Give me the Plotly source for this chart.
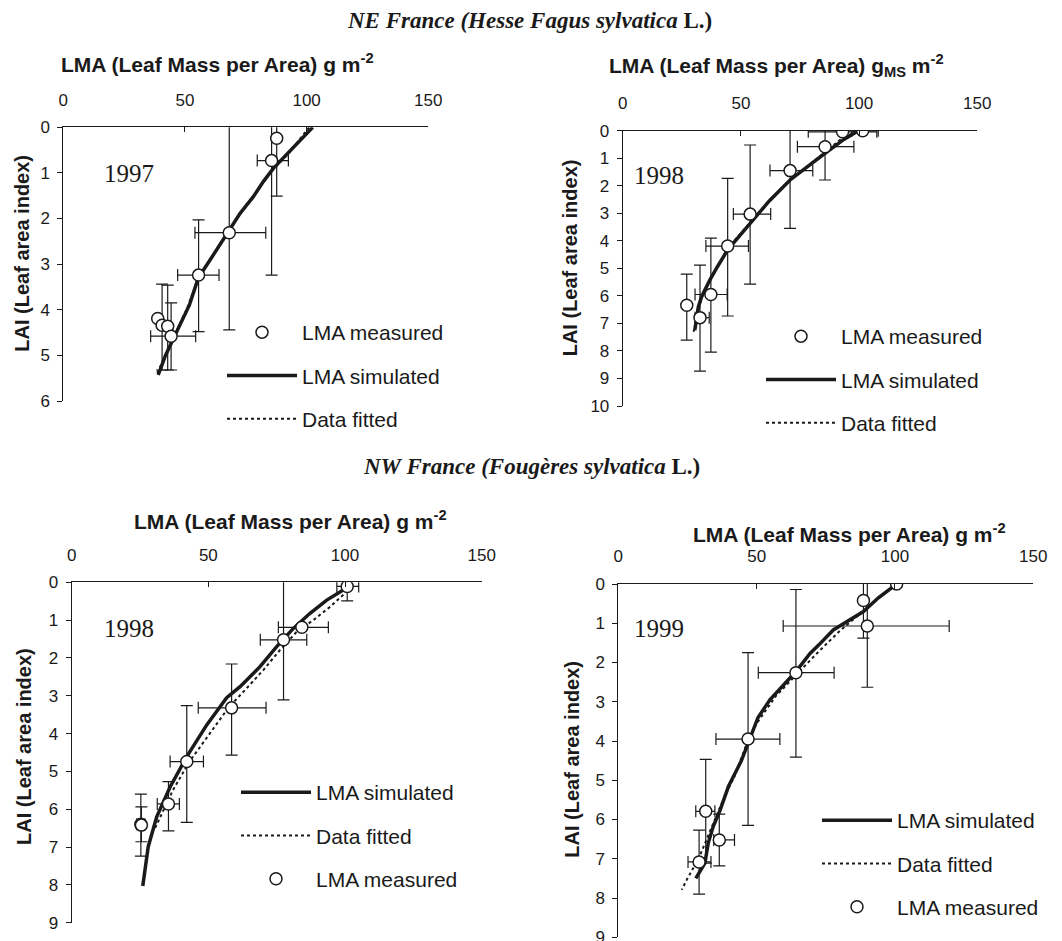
import plotly.graph_objects as go

# ---------------- Panel 1 : NE France, 1997 ----------------
p1_lma = [87.7, 85.6, 68.2, 55.6, 38.8, 40.6, 42.9, 44.3]
p1_lai = [0.24, 0.73, 2.31, 3.24, 4.19, 4.34, 4.36, 4.58]
p1_lma_lo = [None, 79.7, 54.1, 47.0, None, None, None, 35.9]
p1_lma_hi = [None, 92.5, 83.2, 64.0, None, None, None, 54.4]
p1_lai_lo = [-1.03, -1.78, -0.54, 2.03, None, 3.44, 3.46, 3.85]
p1_lai_hi = [1.51, 3.24, 4.44, 4.48, None, 5.32, 5.32, 5.32]
p1_sim_lma = [102.5, 93.2, 86.3, 82.2, 78.1, 72.6, 67.5, 60.3, 55.5, 51.8, 46.0, 42.0, 39.0]
p1_sim_lai = [0.0, 0.53, 0.90, 1.19, 1.52, 1.89, 2.30, 2.91, 3.30, 3.90, 4.55, 5.00, 5.43]
p1_fit_lma = [101.0, 92.5, 85.5, 81.5, 77.5, 72.0, 66.8, 60.0, 55.0, 51.0, 45.5, 41.5, 38.5]
p1_fit_lai = [0.0, 0.58, 0.96, 1.25, 1.58, 1.95, 2.36, 2.95, 3.36, 3.95, 4.60, 5.05, 5.40]

# ---------------- Panel 2 : NE France, 1998 ----------------
p2_lma = [101.5, 93.0, 85.6, 70.8, 53.9, 44.4, 37.3, 32.7, 27.1]
p2_lai = [0.0, 0.04, 0.58, 1.45, 3.03, 4.19, 5.95, 6.79, 6.34]
p2_lma_lo = [96.9, 78.5, 73.9, 62.3, 46.8, 35.2, 30.6, 30.6, None]
p2_lma_hi = [108.1, 107.5, 97.8, 80.4, 62.6, 53.2, 44.2, 36.6, None]
p2_lai_lo = [None, None, -0.63, -0.65, 0.52, 1.73, 3.90, 4.88, 5.21]
p2_lai_hi = [None, None, 1.79, 3.55, 5.57, 6.73, 8.04, 8.73, 7.61]
p2_sim_lma = [99.7, 93.0, 85.6, 78.0, 70.8, 62.0, 53.9, 48.0, 44.4, 40.0, 36.9, 33.5, 32.0, 30.5]
p2_sim_lai = [0.0, 0.35, 0.82, 1.30, 1.79, 2.55, 3.37, 3.95, 4.33, 4.95, 5.42, 6.00, 6.39, 7.25]
p2_fit_lma = [99.0, 92.0, 84.5, 77.0, 69.5, 61.0, 53.0, 47.0, 43.5, 39.5, 36.5, 33.5, 31.5, 30.0]
p2_fit_lai = [0.02, 0.33, 0.85, 1.36, 1.90, 2.62, 3.42, 4.02, 4.42, 5.00, 5.48, 6.05, 6.70, 7.30]

# ---------------- Panel 3 : NW France, 1998 ----------------
p3_lma = [100.8, 84.2, 77.5, 58.5, 42.1, 35.4, 25.3, 25.5]
p3_lai = [0.11, 1.19, 1.52, 3.32, 4.74, 5.86, 6.40, 6.42]
p3_lma_lo = [97.0, 75.6, 69.0, 46.3, 36.0, 31.3, 23.8, None]
p3_lma_hi = [105.0, 93.9, 86.0, 71.1, 48.2, 39.4, 26.8, None]
p3_lai_lo = [-0.17, None, -0.08, 2.16, 3.26, 5.27, 5.60, 5.94]
p3_lai_hi = [0.49, None, 3.11, 4.57, 6.35, 6.57, 7.24, 6.86]
p3_sim_lma = [99.5, 93.3, 87.2, 81.1, 75.0, 68.9, 61.6, 56.7, 49.4, 42.1, 36.0, 31.1, 28.0, 26.0]
p3_sim_lai = [0.20, 0.47, 0.82, 1.22, 1.70, 2.23, 2.76, 3.05, 3.77, 4.61, 5.41, 6.20, 6.99, 8.03]
p3_fit_lma = [99.4, 94.5, 88.4, 82.3, 76.2, 70.1, 63.4, 57.5, 50.5, 43.0, 37.0, 32.5, 30.5]
p3_fit_lai = [0.33, 0.65, 1.00, 1.31, 1.79, 2.32, 2.85, 3.30, 4.00, 4.75, 5.50, 6.20, 6.50]

# ---------------- Panel 4 : NW France, 1999 ----------------
p4_lma = [100.6, 88.6, 90.0, 64.2, 46.9, 31.6, 36.5, 29.2]
p4_lai = [0.0, 0.42, 1.07, 2.26, 3.95, 5.79, 6.52, 7.08]
p4_lma_lo = [None, None, 59.6, 50.6, 35.3, 28.0, 34.5, 25.2]
p4_lma_hi = [None, None, 119.6, 78.0, 58.4, 34.9, 42.0, 33.5]
p4_lai_lo = [None, -0.54, -0.49, 0.14, 1.75, 4.47, 5.86, 6.27]
p4_lai_hi = [None, 1.38, 2.63, 4.41, 6.15, 7.11, 7.18, 7.90]
p4_sim_lma = [100.6, 94.0, 88.6, 82.5, 77.7, 72.5, 69.3, 64.2, 59.0, 54.8, 50.5, 47.2, 44.5,
              42.8, 39.8, 36.8, 34.3, 32.5, 31.3, 28.0]
p4_sim_lai = [0.0, 0.35, 0.70, 0.95, 1.17, 1.55, 1.77, 2.23, 2.62, 2.95, 3.40, 4.00, 4.50,
              4.74, 5.16, 5.76, 6.18, 6.60, 7.11, 7.50]
p4_fit_lma = [100.0, 93.0, 87.0, 80.0, 72.0, 64.5, 57.0, 50.0, 46.0, 42.0, 38.5, 35.5, 32.0,
              29.0, 25.0, 22.9]
p4_fit_lai = [0.02, 0.42, 0.78, 1.20, 1.75, 2.30, 2.85, 3.55, 4.15, 4.90, 5.40, 5.90, 6.50,
              7.00, 7.50, 7.79]

x_ticks = [0, 50, 100, 150]
year_labels = ["1997", "1998", "1998", "1999"]
y_max = [6, 10, 9, 9]

panels = [
    (p1_lma, p1_lai, p1_lma_lo, p1_lma_hi, p1_lai_lo, p1_lai_hi, p1_sim_lma, p1_sim_lai, p1_fit_lma, p1_fit_lai),
    (p2_lma, p2_lai, p2_lma_lo, p2_lma_hi, p2_lai_lo, p2_lai_hi, p2_sim_lma, p2_sim_lai, p2_fit_lma, p2_fit_lai),
    (p3_lma, p3_lai, p3_lma_lo, p3_lma_hi, p3_lai_lo, p3_lai_hi, p3_sim_lma, p3_sim_lai, p3_fit_lma, p3_fit_lai),
    (p4_lma, p4_lai, p4_lma_lo, p4_lma_hi, p4_lai_lo, p4_lai_hi, p4_sim_lma, p4_sim_lai, p4_fit_lma, p4_fit_lai),
]

W, H = 1062, 941
OFF = 8  # page body margin of the HTML page


def px(xp):
    return (xp - OFF) / W


def py(yp):
    return 1 - (yp - OFF) / H


# plot areas in page pixels (left, right, top, bottom)
boxes = [(63.3, 428.3, 127.3, 401.0), (622.7, 977.3, 130.7, 406.0),
         (71.7, 481.7, 582.3, 922.7), (618.3, 1033.3, 584.0, 937.3)]
# legend order per panel: measured, simulated, fitted ranks
legend_ranks = [(1, 2, 3), (1, 2, 3), (3, 1, 2), (3, 1, 2)]
legend_pos = [(222, 312), (761, 316), (236, 772), (817, 800)]

AX = "Liberation Sans, Arial, sans-serif"
SERIF = "Liberation Serif, Times New Roman, serif"
INK = "#1a1a1a"


def minus(vals, lo):
    return [None if l is None else v - l for v, l in zip(vals, lo)]


def plus(vals, hi):
    return [None if h is None else h - v for v, h in zip(vals, hi)]


fig = go.Figure()
layout_axes = {}
for i, (lma, lai, xlo, xhi, ylo, yhi, slma, slai, flma, flai) in enumerate(panels):
    n = i + 1
    xa = "x" if n == 1 else f"x{n}"
    ya = "y" if n == 1 else f"y{n}"
    lg = "legend" if n == 1 else f"legend{n}"
    rm, rs, rf = legend_ranks[i]
    fig.add_trace(go.Scatter(x=flma, y=flai, mode="lines", name="Data fitted",
                             line=dict(color=INK, width=2, dash="dot"),
                             xaxis=xa, yaxis=ya, legend=lg, legendgroup=f"f{n}",
                             legendrank=rf))
    fig.add_trace(go.Scatter(x=slma, y=slai, mode="lines", name="LMA simulated",
                             line=dict(color=INK, width=3.5),
                             xaxis=xa, yaxis=ya, legend=lg, legendgroup=f"s{n}",
                             legendrank=rs))
    fig.add_trace(go.Scatter(x=lma, y=lai, mode="markers", name="LMA measured",
                             marker=dict(symbol="circle", size=12, color="white",
                                         line=dict(color=INK, width=1.5)),
                             error_x=dict(type="data", symmetric=False,
                                          array=plus(lma, xhi), arrayminus=minus(lma, xlo),
                                          color=INK, thickness=1.2, width=6),
                             error_y=dict(type="data", symmetric=False,
                                          array=plus(lai, yhi), arrayminus=minus(lai, ylo),
                                          color=INK, thickness=1.2, width=6),
                             xaxis=xa, yaxis=ya, legend=lg, legendgroup=f"m{n}",
                             legendrank=rm))
    l, r, t, b = boxes[i]
    xkey = "xaxis" if n == 1 else f"xaxis{n}"
    ykey = "yaxis" if n == 1 else f"yaxis{n}"
    layout_axes[xkey] = dict(domain=[px(l), px(r)], range=[0, 150], side="top",
                             anchor=ya, tickvals=x_ticks, ticks="inside", ticklen=5,
                             tickcolor=INK, showline=True, linecolor=INK, linewidth=1,
                             showgrid=False, zeroline=False, ticklabelstandoff=14,
                             automargin=False,
                             tickfont=dict(family=AX, size=17, color=INK))
    layout_axes[ykey] = dict(domain=[py(b), py(t)], range=[y_max[i], 0],
                             anchor=xa, dtick=1, ticks="outside", ticklen=5,
                             tickcolor=INK, showline=True, linecolor=INK, linewidth=1,
                             showgrid=False, zeroline=False, ticklabelstandoff=4,
                             automargin=False,
                             tickfont=dict(family=AX, size=17, color=INK))
    lx, ly = legend_pos[i]
    layout_axes[lg] = dict(x=px(lx), y=py(ly), xanchor="left", yanchor="top",
                           bgcolor="rgba(0,0,0,0)", itemwidth=70, tracegroupgap=13,
                           traceorder="grouped",
                           font=dict(family=AX, size=21, color=INK))

annotations = []
annotations.append(dict(text="<b><i>NE France (Hesse Fagus sylvatica</i> L.)</b>",
                        x=px(529), y=py(21), xref="paper", yref="paper",
                        xanchor="center", yanchor="middle",
                        showarrow=False, font=dict(family=SERIF, size=23, color=INK)))
annotations.append(dict(text="<b><i>NW France (Fougères sylvatica</i> L.)</b>",
                        x=px(531), y=py(467), xref="paper", yref="paper",
                        xanchor="center", yanchor="middle",
                        showarrow=False, font=dict(family=SERIF, size=23, color=INK)))

x_titles = ["LMA (Leaf Mass per Area) g m<sup>-2</sup>",
            "LMA (Leaf Mass per Area) g<sub>MS</sub> m<sup>-2</sup>",
            "LMA (Leaf Mass per Area) g m<sup>-2</sup>",
            "LMA (Leaf Mass per Area) g m<sup>-2</sup>"]
x_title_pos = [(217.5, 63), (776.5, 66), (290, 520), (849.7, 533)]
y_title_pos = [(21.7, 253), (570, 258.3), (23.3, 746.7), (571.7, 759)]
year_pos = [(128.7, 173.3), (659, 175), (128.7, 628.3), (658.7, 628.3)]
for i in range(4):
    xt, yt = x_title_pos[i]
    annotations.append(dict(text=f"<b>{x_titles[i]}</b>", x=px(xt), y=py(yt),
                            xref="paper", yref="paper", showarrow=False,
                            xanchor="center", yanchor="middle",
                            font=dict(family=AX, size=21, color=INK)))
    xt, yt = y_title_pos[i]
    annotations.append(dict(text="<b>LAI (Leaf area index)</b>", x=px(xt), y=py(yt),
                            xref="paper", yref="paper", showarrow=False, textangle=-90,
                            xanchor="center", yanchor="middle",
                            font=dict(family=AX, size=20, color=INK)))
    xt, yt = year_pos[i]
    annotations.append(dict(text=year_labels[i], x=px(xt), y=py(yt),
                            xref="paper", yref="paper", showarrow=False,
                            xanchor="center", yanchor="middle",
                            font=dict(family=SERIF, size=25, color=INK)))

fig.update_layout(width=W, height=H, margin=dict(l=0, r=0, t=0, b=0),
                  paper_bgcolor="white", plot_bgcolor="white",
                  showlegend=True, annotations=annotations, **layout_axes)

fig.write_html("out.html")
